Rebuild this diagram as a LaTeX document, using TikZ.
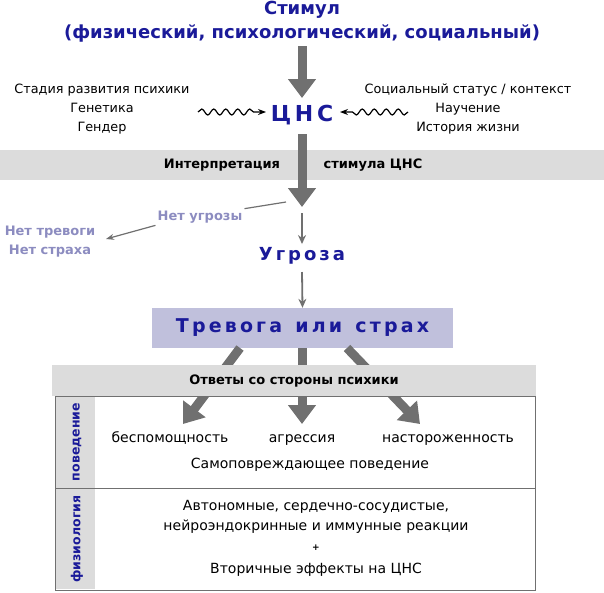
\documentclass[tikz,border=0pt]{standalone}
\usepackage{fontspec}
\setmainfont{DejaVu Sans}
\usetikzlibrary{arrows.meta,decorations.pathmorphing}
\definecolor{dblue}{HTML}{1A1A99}
\definecolor{arr}{HTML}{707070}
\definecolor{band}{HTML}{DCDCDC}
\definecolor{lav}{HTML}{C0C0DC}
\definecolor{pale}{HTML}{8C8CC0}
\begin{document}
\begin{tikzpicture}[x=1pt,y=-1pt,
  title/.style={font=\bfseries\fontsize{18}{20}\selectfont,text=dblue},
  side/.style={font=\fontsize{12.8}{19}\selectfont,align=center},
  body/.style={font=\fontsize{14}{20}\selectfont},
  bandtxt/.style={font=\bfseries\fontsize{13}{14}\selectfont},
  thick arrow/.style={draw=arr,line width=9pt,-{Triangle[length=19pt,width=27pt]}},
  thin arrow/.style={draw=arr,line width=1.8pt,-{Stealth[length=9pt,width=8pt]}},
  wave/.style={decorate,decoration={snake,amplitude=3pt,segment length=12pt,post length=7pt},line width=1.2pt,-{Stealth[length=8pt]}},
  vlabel/.style={font=\bfseries\fontsize{12.5}{14}\selectfont,text=dblue,rotate=90}
]
\useasboundingbox (0,0) rectangle (604,592);
\node[title] (stim) at (302,10) {Стимул};
\node[title] (stim2) at (302,33) {(физический, психологический, социальный)};
\node[font=\bfseries\fontsize{22}{24}\selectfont,text=dblue] (cns) at (302,115) {Ц\,Н\,С};
\draw[thick arrow] (302,46) -- (302,98);
\node[side] (left) at (102,109) {Стадия развития психики\\Генетика\\Гендер};
\node[side] (right) at (468,109) {Социальный статус / контекст\\Научение\\История жизни};
\coordinate (wl) at (198,112); \coordinate (wlE) at (266,112);
\coordinate (wr) at (408,112); \coordinate (wrE) at (340,112);
\draw[wave] (wl) -- (wlE);
\draw[wave] (wr) -- (wrE);
\fill[band] (0,150) rectangle (604,180);
\node[bandtxt] (int1) at (222,165) {Интерпретация};
\node[bandtxt] (int2) at (373,165) {стимула ЦНС};
\draw[thick arrow] (302,134) -- (302,207);
\node[font=\bfseries\fontsize{18}{20}\selectfont,text=dblue] (thr) at (302,256) {У\,г\,р\,о\,з\,а};
\coordinate (t1) at (302,213);
\draw[thin arrow] (t1) -- (thr.north);
\coordinate (t2) at (302,272);
\node[fill=lav,minimum width=301pt,minimum height=40pt,font=\bfseries\fontsize{19}{20}\selectfont,text=dblue] (fear) at (302.5,328) {Т\,р\,е\,в\,о\,г\,а\ \ и\,л\,и\ \ с\,т\,р\,а\,х};
\draw[thin arrow] (t2) -- (fear.north);
\node[font=\bfseries\fontsize{13}{14}\selectfont,text=pale,inner sep=2pt] (nothr) at (200,217) {Нет угрозы};
\node[font=\bfseries\fontsize{13}{19}\selectfont,text=pale,align=center] (noanx) at (50,242) {Нет тревоги\\Нет страха};
\coordinate (ns) at (286,202);
\draw[arr,line width=1.2pt] (ns) -- (nothr.north east);
\draw[arr,line width=1.2pt,-{Stealth[length=8pt]}] (nothr.south west) -- (106,239);
% response arrows
\coordinate (a1s) at (240,348); \coordinate (a1e) at (183,424);
\coordinate (a2s) at (302,348); \coordinate (a2e) at (302,424);
\coordinate (a3s) at (347,348); \coordinate (a3e) at (420,424);
\draw[thick arrow] (a1s) -- (a1e);
\draw[thick arrow] (a2s) -- (a2e);
\draw[thick arrow] (a3s) -- (a3e);
\fill[band] (52,365) rectangle (536,396);
\node[bandtxt] (resp) at (294,381) {Ответы со стороны психики};
\fill[band] (56,397) rectangle (95,589);
\draw[arr,line width=1pt] (55,396) rectangle (535,590);
\draw[arr,line width=1pt] (55,488) -- (535,488);
\node[vlabel] (beh) at (77,442) {поведение};
\node[vlabel] (phys) at (77,539) {физиология};
\node[body,anchor=base] (b1) at (170,442) {беспомощность};
\node[body,anchor=base] (b2) at (302,442) {агрессия};
\node[body,anchor=base] (b3) at (448,442) {настороженность};
\node[body] (b4) at (310,465) {Самоповреждающее поведение};
\node[body,align=center] (p1) at (316,517) {Автономные, сердечно-сосудистые,\\нейроэндокринные и иммунные реакции};
\node[font=\bfseries\fontsize{9}{9}\selectfont] (plus) at (316,548) {+};
\node[body] (p2) at (316,570) {Вторичные эффекты на ЦНС};
\end{tikzpicture}
\end{document}
